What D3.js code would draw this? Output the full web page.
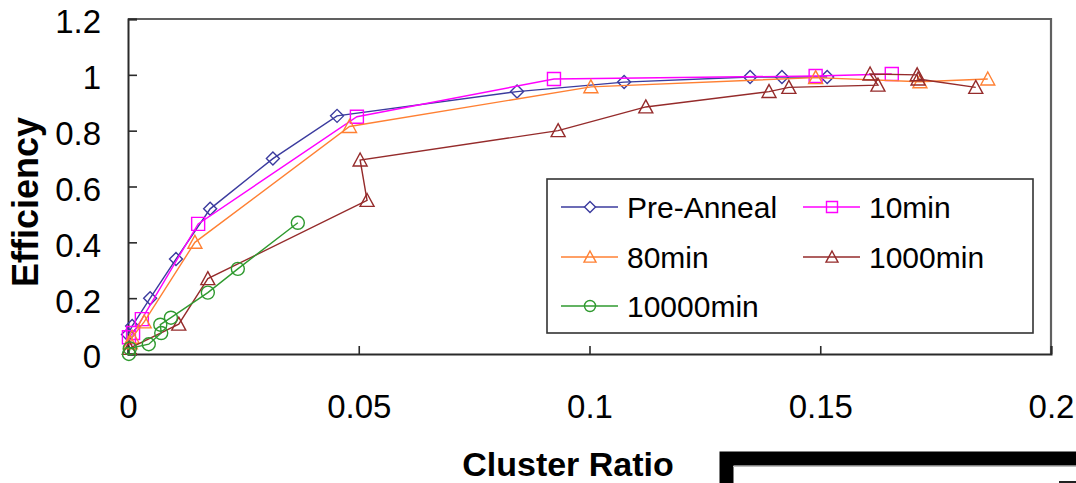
<!DOCTYPE html>
<html>
<head>
<meta charset="utf-8">
<script src="https://cdn.jsdelivr.net/npm/d3@7/dist/d3.min.js"></script>
<style>
  html, body { margin: 0; padding: 0; background: #fff; }
  svg { display: block; }
  text { font-family: "Liberation Sans", Arial, sans-serif; fill: #000; }
</style>
</head>
<body>
<svg id="chart" width="1076" height="483"></svg>
<script>
// Efficiency vs. cluster ratio for each anneal time, [clusterRatio, efficiency]
const preAnneal = [[0, 0.07], [0.0009, 0.10], [0.0048, 0.20], [0.0104, 0.34], [0.0178, 0.52],
  [0.0314, 0.70], [0.0453, 0.853], [0.0843, 0.94], [0.1075, 0.974], [0.1348, 0.992],
  [0.1417, 0.992], [0.1515, 0.992]];
const min10 = [[0.0002, 0.06], [0.0011, 0.075], [0.003, 0.125], [0.0152, 0.466], [0.0496, 0.85],
  [0.0923, 0.985], [0.149, 0.996], [0.1655, 1.003]];
const min80 = [[0.0005, 0.04], [0.0009, 0.06], [0.0035, 0.115], [0.0145, 0.40], [0.048, 0.815],
  [0.1003, 0.957], [0.149, 0.99], [0.1716, 0.975], [0.1863, 0.985]];
const min1000 = [[0.0003, 0.02], [0.011, 0.107], [0.0173, 0.27], [0.0518, 0.55], [0.0503, 0.695],
  [0.0932, 0.80], [0.1122, 0.885], [0.1389, 0.94], [0.1432, 0.955], [0.1625, 0.963],
  [0.1608, 1.003], [0.171, 1.0], [0.1712, 0.985], [0.1837, 0.955]];
const min10000 = [[0.0002, 0.0], [0.0004, 0.02], [0.0045, 0.035], [0.0072, 0.075], [0.007, 0.105],
  [0.0093, 0.13], [0.0173, 0.22], [0.0238, 0.305], [0.0368, 0.47]];

const seriesNames = ["Pre-Anneal", "10min", "80min", "1000min", "10000min"];
const seriesData = [preAnneal, min10, min80, min1000, min10000];
const seriesColors = ["#3b3b9e", "#ff00ff", "#ff8033", "#952b2b", "#2f9a2f"];
const seriesMarkers = ["diamond", "square", "triangle", "triangle", "circle"];

const xTicks = [0, 0.05, 0.1, 0.15, 0.2];
const yTicks = [0, 0.2, 0.4, 0.6, 0.8, 1, 1.2];

const svg = d3.select("#chart");
const plot = { left: 128, right: 1051, top: 19, bottom: 354 };

const x = d3.scaleLinear().domain([0, 0.2]).range([plot.left, plot.right]);
const y = d3.scaleLinear().domain([0, 1.2]).range([plot.bottom, plot.top]);
const fmt = d => String(+d.toFixed(2));

// hollow marker outlines centred on (0,0)
function markerPath(type, s) {
  const h = s / 2;
  if (type === "diamond") return `M0,${-h}L${h},0L0,${h}L${-h},0Z`;
  if (type === "square") return `M${-h},${-h}H${h}V${h}H${-h}Z`;
  if (type === "triangle") return `M0,${-h}L${h},${h * 0.85}L${-h},${h * 0.85}Z`;
  const p = d3.path(); p.arc(0, 0, h, 0, 2 * Math.PI); return p.toString();
}
const markerSize = { diamond: 13, square: 13, triangle: 14, circle: 13 };

// plot-area frame (top and right edges)
svg.append("path")
  .attr("d", `M${plot.left},${plot.top}H${plot.right}V${plot.bottom}`)
  .attr("fill", "none").attr("stroke", "#606060").attr("stroke-width", 2.2);

// axes with inward ticks
const yAxis = svg.append("g").attr("transform", `translate(${plot.left},0)`)
  .call(d3.axisLeft(y).tickValues(yTicks).tickSize(-9).tickPadding(27).tickFormat(fmt));
const xAxis = svg.append("g").attr("transform", `translate(0,${plot.bottom})`)
  .call(d3.axisBottom(x).tickValues(xTicks).tickSize(-8).tickPadding(41).tickFormat(fmt));
[yAxis, xAxis].forEach(g => {
  g.select(".domain").attr("stroke", "#2a2a2a").attr("stroke-width", 2);
  g.selectAll(".tick line").attr("stroke", "#2a2a2a").attr("stroke-width", 1.6);
  g.selectAll(".tick text").style("font-size", "33px").attr("fill", "#000");
});
yAxis.selectAll(".tick text").attr("dy", "0.42em");

// series lines and markers
const line = d3.line().x(d => x(d[0])).y(d => y(d[1]));
seriesData.forEach((data, i) => {
  const g = svg.append("g");
  g.append("path").datum(data).attr("d", line)
    .attr("fill", "none").attr("stroke", seriesColors[i]).attr("stroke-width", 1.4);
  const m = seriesMarkers[i];
  g.selectAll("path.mk").data(data).join("path").attr("class", "mk")
    .attr("transform", d => `translate(${x(d[0])},${y(d[1])})`)
    .attr("d", markerPath(m, markerSize[m]))
    .attr("fill", "none").attr("stroke", seriesColors[i]).attr("stroke-width", 1.4);
});

// axis titles
svg.append("text").attr("x", 568).attr("y", 476).attr("text-anchor", "middle")
  .style("font-size", "34px").style("font-weight", "bold").text("Cluster Ratio");
svg.append("text").attr("transform", "translate(38,202) rotate(-90)").attr("text-anchor", "middle")
  .style("font-size", "36px").style("font-weight", "bold").text("Efficiency");

// legend
const legend = svg.append("g");
legend.append("rect").attr("x", 547).attr("y", 179).attr("width", 486).attr("height", 154)
  .attr("fill", "#fff").attr("stroke", "#333").attr("stroke-width", 1.6);
const legendPos = [[561, 207], [803, 207], [561, 257], [803, 257], [561, 306]];
seriesNames.forEach((name, i) => {
  const [lx, ly] = legendPos[i];
  const m = seriesMarkers[i];
  legend.append("line").attr("x1", lx).attr("x2", lx + 57).attr("y1", ly).attr("y2", ly)
    .attr("stroke", seriesColors[i]).attr("stroke-width", 1.4);
  legend.append("path").attr("transform", `translate(${lx + 29},${ly})`)
    .attr("d", markerPath(m, markerSize[m] - 2))
    .attr("fill", m === "diamond" ? "#fff" : "none")
    .attr("stroke", seriesColors[i]).attr("stroke-width", 1.4);
  legend.append("text").attr("x", lx + 66).attr("y", ly).attr("dy", "0.35em")
    .style("font-size", "30px").text(name);
});

// neighbouring panel frame at the lower right
svg.append("path").attr("d", "M726.5,483V458.5H1076").attr("fill", "none")
  .attr("stroke", "#000").attr("stroke-width", 14);
svg.append("line").attr("x1", 733).attr("x2", 1076).attr("y1", 466.5).attr("y2", 466.5)
  .attr("stroke", "#bbb").attr("stroke-width", 1);
svg.append("rect").attr("x", 1059).attr("y", 481).attr("width", 17).attr("height", 2).attr("fill", "#222");
</script>
</body>
</html>
